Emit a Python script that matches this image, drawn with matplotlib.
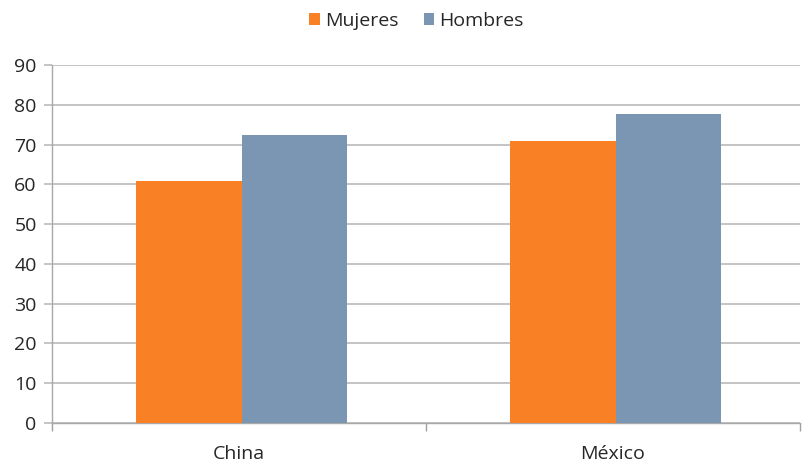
import numpy as np
import matplotlib
matplotlib.use("Agg")
import matplotlib.pyplot as plt

categories = ["China", "México"]
mujeres = [60.8, 70.9]
hombres = [72.4, 77.6]
yticks = [0, 10, 20, 30, 40, 50, 60, 70, 80, 90]

ORANGE = "#F98024"
BLUE = "#7A96B2"
GRID = "#BFBFBF"
TEXT = "#262626"

plt.rcParams["font.family"] = ["Open Sans", "DejaVu Sans"]

fig = plt.figure(figsize=(8.04, 4.65), dpi=100)
ax = fig.add_axes([52 / 804, 1 - 423 / 465, 748 / 804, 358 / 465])

x = np.arange(len(categories))
w = 0.283
off = 0.007
ax.bar(x - w / 2 + off, mujeres, w, color=ORANGE, label="Mujeres", zorder=3)
ax.bar(x + w / 2 + off, hombres, w, color=BLUE, label="Hombres", zorder=3)

ax.set_xlim(-0.5, len(categories) - 0.5)
ax.set_ylim(0, 90)
ax.set_yticks(yticks)
ax.yaxis.grid(True, color=GRID, lw=1.3, zorder=0)
ax.set_axisbelow(True)

ax.set_xticks(x)
ax.set_xticklabels(categories)
ax.set_xticks(np.arange(-0.5, len(categories)), minor=True)
ax.tick_params(axis="x", which="major", length=0, pad=16, labelsize=14, colors=TEXT)
ax.tick_params(axis="x", which="minor", length=6, width=1, color="#A0A0A0", direction="out")
ax.tick_params(axis="y", length=6, width=1.3, color=GRID, labelsize=14, pad=5,
               labelcolor=TEXT)

for s in ("top", "right"):
    ax.spines[s].set_visible(False)
for s in ("left", "bottom"):
    ax.spines[s].set_color("#A8A8A8")
    ax.spines[s].set_linewidth(1)

leg = fig.legend(loc="upper center", bbox_to_anchor=(0.518, 1.012), ncol=2, frameon=False,
                 fontsize=14, handlelength=0.55, handleheight=0.55, handletextpad=0.25,
                 columnspacing=1.3)
for t in leg.get_texts():
    t.set_color(TEXT)

fig.savefig("out.png")
